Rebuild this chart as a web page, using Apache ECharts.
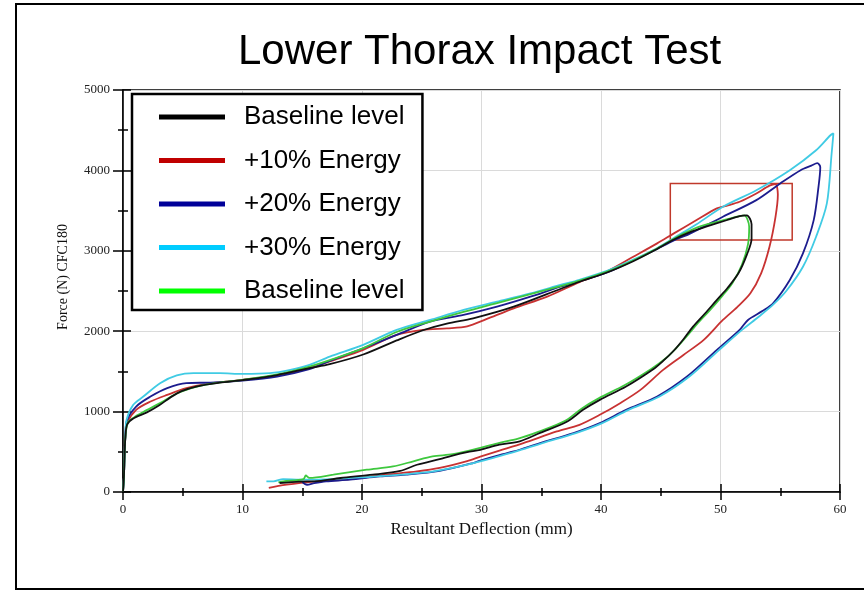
<!DOCTYPE html>
<html>
<head>
<meta charset="utf-8">
<title>Lower Thorax Impact Test</title>
<script src="https://cdn.jsdelivr.net/npm/echarts@6/dist/echarts.min.js"></script>
<style>
  html, body { margin: 0; padding: 0; background: #fff; }
  #chart { width: 864px; height: 591px; }
</style>
</head>
<body>
<div id="chart"></div>
<script>
// [deflection mm, force N]
const baseline = [
  [0, 0], [0.08, 200], [0.13, 450], [0.2, 680], [0.35, 840], [0.86, 915], [2.0, 990], [3.0, 1075],
  [4.0, 1180], [4.9, 1255], [6.2, 1315], [8.1, 1360], [10, 1392], [12.9, 1455], [15.6, 1540],
  [17.3, 1590], [20.1, 1710], [22.9, 1885], [25.1, 2012], [27.1, 2095], [29.3, 2160], [32.7, 2305],
  [36.6, 2525], [38.2, 2615], [40.5, 2730], [42.7, 2870], [44.4, 3000], [46.1, 3140], [47.5, 3235],
  [48.8, 3300], [50.5, 3380], [51.6, 3432], [52.2, 3440], [52.6, 3330], [52.6, 3150], [52.2, 2950],
  [51.5, 2720], [50.6, 2540], [49.7, 2390], [48.7, 2220], [47.7, 2057], [46.9, 1900], [46.1, 1760],
  [45.2, 1630], [44.4, 1530], [42.1, 1312], [39.9, 1146], [38.5, 1022], [37.1, 870], [34.9, 735],
  [33.2, 630], [31.5, 588], [29.9, 525], [28.8, 495], [27.5, 450], [26.5, 410], [24.6, 339],
  [23.2, 262], [20.9, 215], [18.2, 174], [16, 132], [14.8, 130], [13.1, 112],
]
const energy10 = [
  [0, 0], [0.08, 200], [0.13, 450], [0.2, 700], [0.35, 860], [1.1, 1022], [2.3, 1125], [3.7, 1208],
  [5.3, 1292], [7.3, 1352], [10, 1395], [12.9, 1450], [15.6, 1540], [17.3, 1625], [20.1, 1767],
  [22.9, 1954], [25.1, 2016], [27.1, 2035], [28.8, 2060], [30.4, 2150], [32.7, 2285], [35.5, 2430],
  [38.2, 2610], [40.5, 2745], [42.7, 2926], [44.7, 3092], [46.1, 3217], [48, 3382], [49.7, 3527],
  [50.5, 3560], [51.6, 3610], [53, 3713], [54.1, 3810], [54.6, 3830], [54.8, 3700], [54.6, 3420],
  [54.1, 3051], [53.4, 2720], [52.5, 2471], [51.4, 2300], [50.2, 2140], [48.6, 1892], [46.9, 1705],
  [45.2, 1519], [43.3, 1270], [41.6, 1105], [39.9, 960], [38.2, 836], [36.3, 753], [33.5, 609],
  [31.5, 515], [29.9, 440], [28.8, 385], [26.5, 300], [24.6, 256], [22, 215], [19, 161],
  [16.2, 132], [13.7, 91], [12.2, 50],
]
const energy20 = [
  [0, 0], [0.08, 200], [0.13, 450], [0.2, 700], [0.3, 877], [1.1, 1063], [2.3, 1187], [3.7, 1292],
  [5.3, 1354], [7.3, 1361], [10, 1386], [12.9, 1436], [15.6, 1528], [17.3, 1630], [20.1, 1788],
  [22.9, 1954], [25.7, 2119], [28.5, 2202], [31.3, 2305], [34.1, 2429], [36.6, 2554], [38.2, 2620],
  [40.5, 2730], [42.7, 2880], [44.4, 3000], [46.1, 3130], [47.4, 3210], [50.2, 3423], [53, 3630],
  [55, 3838], [56.7, 4003], [57.6, 4060], [58.1, 4090], [58.35, 4040], [58.2, 3796], [57.8, 3382],
  [56.9, 2968], [55.8, 2637], [54.4, 2347], [53.5, 2250], [52.3, 2140], [51.6, 2016], [49.7, 1768],
  [47.2, 1436], [44.7, 1188], [42.1, 1022], [39.9, 857], [37.7, 733], [34.9, 609], [32.7, 504],
  [31.5, 460], [30.1, 401], [29.3, 360], [26.5, 262], [23.7, 215], [21.5, 194], [19, 153],
  [17, 132], [16, 110], [15.4, 90], [15, 125],
]
const energy30 = [
  [0, 0], [0.08, 200], [0.13, 450], [0.18, 650], [0.3, 898], [0.86, 1084], [1.7, 1187], [3.1, 1354],
  [4.5, 1450], [5.9, 1478], [8.1, 1478], [10, 1469], [12.3, 1478], [14, 1519], [15.6, 1581],
  [17.3, 1684], [20.1, 1830], [22.9, 2016], [25.7, 2140], [28.5, 2264], [31.3, 2367], [34.1, 2471],
  [36.6, 2575], [38.2, 2640], [40.5, 2750], [42.7, 2890], [44.4, 3010], [46.1, 3160], [48, 3330],
  [50.2, 3548], [53, 3754], [55.8, 4003], [58, 4251], [59.2, 4437], [59.45, 4460], [59.3, 4210],
  [58.9, 3589], [58, 3175], [56.9, 2802], [55.5, 2500], [54.4, 2330], [53.2, 2180], [51.8, 2016],
  [49.9, 1768], [47.4, 1436], [44.9, 1188], [42.3, 1022], [40.1, 857], [37.9, 733], [35.1, 609],
  [32.9, 504], [31.5, 445], [28.8, 339], [26, 256], [23.2, 215], [20.4, 186], [17.6, 161],
  [14.8, 153], [13.4, 161], [12.6, 132], [12, 132],
]
const baselineRepeat = [
  [0, 0], [0.08, 200], [0.13, 450], [0.2, 680], [0.4, 860], [0.9, 925], [1.7, 995], [3.1, 1105],
  [4.5, 1225], [6.2, 1310], [8, 1360], [10, 1395], [12.9, 1462], [15.6, 1560], [17.3, 1640],
  [20.1, 1790], [22.9, 1990], [25.7, 2120], [28.5, 2240], [31.3, 2350], [34.1, 2460], [36.6, 2560],
  [38.2, 2630], [40.5, 2740], [42.7, 2880], [44.4, 3005], [46.1, 3150], [46.9, 3215], [48.3, 3305],
  [50.5, 3390], [51.6, 3430], [52.0, 3440], [52.4, 3300], [52.3, 3080], [51.8, 2830], [51.0, 2600],
  [50.1, 2430], [49.1, 2260], [48.1, 2100], [47.2, 1940], [46.3, 1790], [45.4, 1660], [44.2, 1530],
  [42.0, 1330], [39.8, 1165], [38.4, 1040], [37.0, 885], [34.8, 750], [33.0, 660], [31.5, 612],
  [29.9, 548], [27.6, 470], [25.9, 442], [24.3, 382], [22.6, 318], [20.4, 277], [17.6, 215],
  [15.6, 176], [15.3, 205], [15.1, 160], [13.4, 132], [13, 120],
]

const seriesNames = ['Baseline level', '+10% Energy', '+20% Energy', '+30% Energy', 'Baseline level 2']
const lineColors = ['#111111', '#c83232', '#1c1c8e', '#40cbe4', '#3ec83e']
const legendColors = ['#000000', '#c00000', '#000099', '#00ccff', '#00ff00']
const xTicks = [0, 60, 10]
const yTicks = [0, 5000, 1000]
// red box around the peak region
const highlightBox = [[45.8, 3134], [56.0, 3838]]

document.addEventListener('DOMContentLoaded', function () {
  const chartDom = document.getElementById('chart')
  const myChart = echarts.init(chartDom, null, { renderer: 'canvas' })

  const allData = [baseline, energy10, energy20, energy30, baselineRepeat]
  const serif = 'Liberation Serif'
  const sans = 'Liberation Sans'

  const baseAxis = (range, inside) => ({
    type: 'value',
    min: range[0],
    max: range[1],
    interval: range[2],
    axisLine: { show: !inside, onZero: false, lineStyle: { color: '#000', width: 1.5 } },
    axisTick: { show: true, inside: inside, length: 8, lineStyle: { color: '#000', width: 1.5 } },
    minorTick: { show: true, splitNumber: 2, length: 4, lineStyle: { color: '#000', width: 1.5 } },
    splitLine: { show: !inside, lineStyle: { color: '#dadada', width: 1 } },
    axisLabel: { show: !inside },
  })

  const xMain = baseAxis(xTicks, false)
  xMain.position = 'bottom'
  xMain.name = 'Resultant Deflection (mm)'
  xMain.nameLocation = 'middle'
  xMain.nameGap = 27
  xMain.nameTextStyle = { fontFamily: serif, fontSize: 17, color: '#111' }
  xMain.axisLabel = { fontFamily: serif, fontSize: 13, color: '#222', margin: 11 }
  const xInner = baseAxis(xTicks, true)
  xInner.position = 'bottom'

  const yMain = baseAxis(yTicks, false)
  yMain.position = 'left'
  yMain.axisTick.length = 10
  yMain.minorTick.length = 5
  yMain.name = 'Force (N) CFC180'
  yMain.nameLocation = 'middle'
  yMain.nameGap = 53
  yMain.nameTextStyle = { fontFamily: serif, fontSize: 14, color: '#111', padding: [0, 0, 0, 28] }
  yMain.axisLabel = {
    fontFamily: serif,
    fontSize: 13,
    color: '#222',
    margin: 13,
    formatter: v => String(v),
  }
  const yInner = baseAxis(yTicks, true)
  yInner.position = 'left'
  yInner.minorTick.length = 5

  const series = allData.map((data, i) => {
    const s = {
      name: seriesNames[i],
      type: 'line',
      xAxisIndex: 0,
      yAxisIndex: 0,
      data: data,
      showSymbol: false,
      symbol: 'none',
      smooth: 0.3,
      color: lineColors[i],
      lineStyle: { color: lineColors[i], width: 1.8 },
      z: 3 + (i === 0 ? 1 : 0),
    }
    if (i === 1) {
      s.markArea = {
        silent: true,
        itemStyle: { color: 'rgba(0,0,0,0)', borderColor: '#c0392b', borderWidth: 1.5 },
        data: [[{ coord: highlightBox[0] }, { coord: highlightBox[1] }]],
      }
    }
    return s
  })

  const option = {
    backgroundColor: '#fff',
    animation: false,
    title: {
      text: 'Lower Thorax Impact Test',
      left: 238,
      top: 31,
      padding: 0,
      textStyle: { fontFamily: sans, fontSize: 42, fontWeight: 'normal', color: '#000' },
    },
    graphic: [
      {
        type: 'rect',
        shape: { x: 16, y: 4, width: 900, height: 585 },
        style: { fill: 'none', stroke: '#000', lineWidth: 2 },
        silent: true,
        z: 0,
      },
    ],
    legend: {
      orient: 'vertical',
      left: 132,
      top: 94,
      padding: [8, 18, 4, 27],
      backgroundColor: '#fff',
      borderColor: '#000',
      borderWidth: 2.5,
      icon: 'rect',
      itemWidth: 66,
      itemHeight: 5,
      itemGap: 13.5,
      selectedMode: false,
      formatter: name => (name === 'Baseline level 2' ? 'Baseline level' : name),
      textStyle: {
        fontFamily: sans,
        fontSize: 26,
        lineHeight: 30,
        color: '#000',
        padding: [0, 0, 0, 14],
      },
      data: seriesNames.map((n, i) => ({ name: n, itemStyle: { color: legendColors[i] } })),
    },
    grid: {
      left: 123,
      right: 24,
      top: 90,
      bottom: 99,
      show: true,
      borderColor: '#000',
      borderWidth: 1.5,
    },
    xAxis: [xMain, xInner],
    yAxis: [yMain, yInner],
    series: series,
  }

  myChart.setOption(option)

  window.addEventListener('resize', function () {
    myChart.resize()
  })
})
</script>
</body>
</html>
